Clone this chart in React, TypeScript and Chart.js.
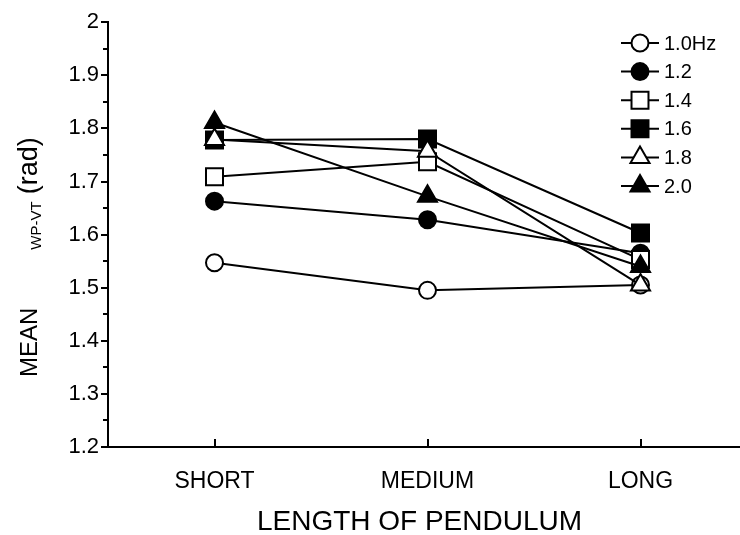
import React, { useEffect, useRef } from "react";
import { Chart, registerables } from "chart.js";
import { drawPoint } from "chart.js/helpers";
Chart.register(...registerables);

const categories = ["SHORT", "MEDIUM", "LONG"];
const seriesLabels = ["1.0Hz", "1.2", "1.4", "1.6", "1.8", "2.0"];
const hz10 = [1.547, 1.495, 1.505];
const hz12 = [1.663, 1.628, 1.565];
const hz14 = [1.709, 1.737, 1.553];
const hz16 = [1.778, 1.78, 1.603];
const hz18 = [1.779, 1.757, 1.505];
const hz20 = [1.811, 1.672, 1.54];
const yTickValues = [1.2, 1.3, 1.4, 1.5, 1.6, 1.7, 1.8, 1.9, 2.0];
const yTickLabels = ["1.2", "1.3", "1.4", "1.5", "1.6", "1.7", "1.8", "1.9", "2"];
const yMinorValues = [1.25, 1.35, 1.45, 1.55, 1.65, 1.75, 1.85, 1.95];
const xTitle = "LENGTH OF PENDULUM";

const seriesValues = [hz10, hz12, hz14, hz16, hz18, hz20];
const styles = [
  { pointStyle: "circle", fill: "#fff", radius: 8.5 },
  { pointStyle: "circle", fill: "#000", radius: 8.5 },
  { pointStyle: "rect", fill: "#fff", radius: 12 },
  { pointStyle: "rect", fill: "#000", radius: 12 },
  { pointStyle: "triangle", fill: "#fff", radius: 11 },
  { pointStyle: "triangle", fill: "#000", radius: 11 },
];

const FONT = "'Liberation Sans', Arial, sans-serif";

const decorPlugin = {
  id: "decor",
  afterDraw(chart: any) {
    const ctx = chart.ctx as CanvasRenderingContext2D;
    const xs = chart.scales.x;
    const ys = chart.scales.y;
    const area = chart.chartArea;
    ctx.save();
    ctx.strokeStyle = "#000";
    ctx.lineWidth = 2;
    ctx.beginPath();
    yTickValues.forEach((v) => {
      const y = Math.round(ys.getPixelForValue(v));
      ctx.moveTo(area.left, y);
      ctx.lineTo(area.left - 7, y);
    });
    yMinorValues.forEach((v) => {
      const y = Math.round(ys.getPixelForValue(v));
      ctx.moveTo(area.left, y);
      ctx.lineTo(area.left - 5, y);
    });
    categories.forEach((_, i) => {
      const x = Math.round(xs.getPixelForValue(i));
      ctx.moveTo(x, area.bottom);
      ctx.lineTo(x, area.bottom - 8);
    });
    ctx.stroke();

    // x title
    ctx.fillStyle = "#000";
    ctx.font = `28px ${FONT}`;
    ctx.textAlign = "center";
    ctx.textBaseline = "middle";
    const xMid = (xs.getPixelForValue(0) + xs.getPixelForValue(categories.length - 1)) / 2 - 8;
    ctx.fillText(xTitle, xMid, 522);

    // y title
    ctx.translate(37, 377);
    ctx.rotate(-Math.PI / 2);
    ctx.textBaseline = "alphabetic";
    ctx.textAlign = "left";
    let pos = 0;
    ctx.font = `24px ${FONT}`;
    ctx.fillText("MEAN", pos, 0);
    pos += ctx.measureText("MEAN").width + 58;
    ctx.font = `15px ${FONT}`;
    ctx.fillText("WP-VT", pos, 4);
    pos += ctx.measureText("WP-VT").width + 7;
    ctx.font = `27px ${FONT}`;
    ctx.fillText("(rad)", pos, 0);
    ctx.restore();

    ctx.save();
    seriesLabels.forEach((label, i) => {
      const y = 43 + i * 28.6;
      const ds = chart.data.datasets[i];
      ctx.strokeStyle = "#000";
      ctx.lineWidth = 2;
      ctx.beginPath();
      ctx.moveTo(621, y);
      ctx.lineTo(659, y);
      ctx.stroke();
      ctx.fillStyle = ds.pointBackgroundColor;
      ctx.strokeStyle = "#000";
      ctx.lineWidth = 2;
      drawPoint(ctx, { pointStyle: ds.pointStyle, rotation: 0, radius: ds.pointRadius, borderWidth: 2 }, 640, y);
      ctx.fillStyle = "#000";
      ctx.font = `20px ${FONT}`;
      ctx.textBaseline = "middle";
      ctx.textAlign = "left";
      ctx.fillText(label, 664, y + 1);
    });
    ctx.restore();
  },
};

export default function App() {
  const ref = useRef<HTMLCanvasElement>(null);
  useEffect(() => {
    if (!ref.current) return;
    const chart = new Chart(ref.current, {
      type: "line",
      data: {
        labels: categories,
        datasets: seriesValues.map((vals, i) => ({
          label: seriesLabels[i],
          data: vals,
          borderColor: "#000",
          borderWidth: 2,
          backgroundColor: styles[i].fill,
          pointStyle: styles[i].pointStyle,
          pointRadius: styles[i].radius,
          pointBackgroundColor: styles[i].fill,
          pointBorderColor: "#000",
          pointBorderWidth: 2,
          tension: 0,
          fill: false,
          order: seriesValues.length - i,
        })),
      },
      options: {
        animation: false,
        responsive: true,
        maintainAspectRatio: false,
        layout: { padding: { top: 20, right: 0, left: 0, bottom: 0 } },
        plugins: { legend: { display: false }, tooltip: { enabled: false } },
        scales: {
          x: {
            type: "category",
            offset: true,
            grid: { display: false, drawTicks: false },
            border: { display: true, color: "#000", width: 2 },
            ticks: { color: "#000", font: { family: FONT, size: 23 }, padding: 21 },
            title: { display: false },
            afterFit: (s: any) => {
              s.height = 88;
              s.paddingLeft = 0;
              s.paddingRight = 0;
            },
          },
          y: {
            min: 1.2,
            max: 2.0,
            grid: { display: false, drawTicks: false },
            border: { display: true, color: "#000", width: 2 },
            afterBuildTicks: (s: any) => {
              s.ticks = yTickValues.map((v) => ({ value: v }));
            },
            ticks: {
              color: "#000",
              font: { family: FONT, size: 22 },
              padding: 9,
              callback: (_v: any, idx: number) => yTickLabels[idx],
            },
            afterFit: (s: any) => {
              s.width = 108;
            },
          },
        },
      },
      plugins: [decorPlugin],
    });
    return () => chart.destroy();
  }, []);
  return (
    <div style={{ position: "absolute", left: 0, top: 0, width: 740, height: 535, overflow: "hidden" }}>
      <div style={{ position: "relative", width: 761, height: 535 }}>
        <canvas ref={ref} />
      </div>
    </div>
  );
}
